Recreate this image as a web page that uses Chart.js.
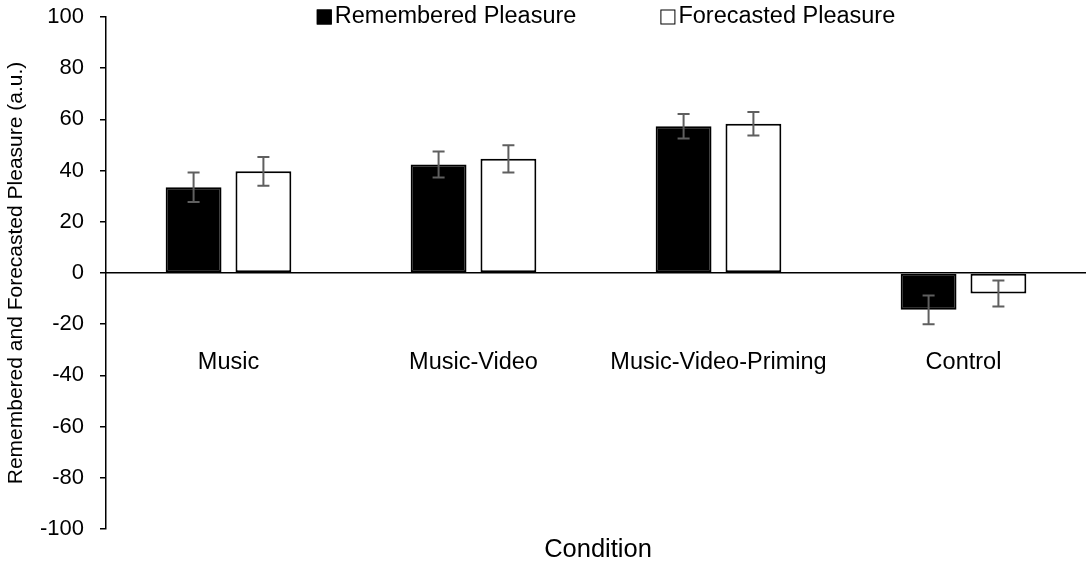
<!DOCTYPE html>
<html>
<head>
<meta charset="utf-8">
<script src="https://cdn.jsdelivr.net/npm/chart.js@4/dist/chart.umd.min.js"></script>
<style>
  html, body { margin: 0; padding: 0; background: #fff; }
  #wrap { width: 1086px; height: 569px; }
</style>
</head>
<body>
<div id="wrap"><canvas id="chart"></canvas></div>
<script>
// Data
const categories = ['Music', 'Music-Video', 'Music-Video-Priming', 'Control'];
const remembered = [33.5, 42.4, 57.3, -14.4];
const rememberedErr = [5.8, 5.1, 4.8, 5.6];
const forecasted = [39.7, 44.6, 58.3, -8.0];
const forecastedErr = [5.6, 5.3, 4.6, 5.1];
const yTicks = [-100, -80, -60, -40, -20, 0, 20, 40, 60, 80, 100];

const FONT = '"Liberation Sans", Arial, sans-serif';
const errors = [rememberedErr, forecastedErr];

// Error bars drawn from the bar elements and the y scale
const errorBars = {
  id: 'errorBars',
  afterDatasetsDraw(chart) {
    const ctx = chart.ctx;
    const y = chart.scales.y;
    ctx.save();
    ctx.strokeStyle = '#5f5f5f';
    ctx.lineWidth = 2;
    chart.data.datasets.forEach((ds, i) => {
      const meta = chart.getDatasetMeta(i);
      meta.data.forEach((bar, j) => {
        const v = ds.data[j];
        const e = errors[i][j];
        const top = y.getPixelForValue(v + e);
        const bot = y.getPixelForValue(v - e);
        ctx.beginPath();
        ctx.moveTo(bar.x, top); ctx.lineTo(bar.x, bot);
        ctx.moveTo(bar.x - 6, top); ctx.lineTo(bar.x + 6, top);
        ctx.moveTo(bar.x - 6, bot); ctx.lineTo(bar.x + 6, bot);
        ctx.stroke();
      });
    });
    ctx.restore();
  }
};

// Legend over the plot and the x axis title at the bottom
const extras = {
  id: 'extras',
  afterDraw(chart) {
    const ctx = chart.ctx;
    const area = chart.chartArea;
    ctx.save();
    ctx.font = '23.5px ' + FONT;
    ctx.textBaseline = 'middle';
    ctx.fillStyle = '#000';
    const labels = chart.data.datasets.map(d => d.label);
    const box = 15, gapText = 3, gapItem = 84;
    const widths = labels.map(l => ctx.measureText(l).width);
    const total = widths.reduce((a, w) => a + box + gapText + w, 0) + gapItem;
    let x = area.left + (area.width - total) / 2 + 10;
    const ly = 17;
    labels.forEach((l, i) => {
      const ds = chart.data.datasets[i];
      ctx.fillStyle = ds.backgroundColor;
      ctx.fillRect(x, ly - box / 2, box, box);
      ctx.strokeStyle = '#000';
      ctx.lineWidth = 1;
      ctx.strokeRect(x + 0.5, ly - box / 2 + 0.5, box - 1, box - 1);
      ctx.fillStyle = '#000';
      ctx.textAlign = 'left';
      ctx.fillText(l, x + box + gapText, ly);
      x += box + gapText + widths[i] + gapItem;
    });
    ctx.font = '25.5px ' + FONT;
    ctx.textAlign = 'center';
    ctx.fillText('Condition', (area.left + area.right) / 2 + 2, area.bottom + 21);
    ctx.restore();
  }
};

new Chart(document.getElementById('chart'), {
  type: 'bar',
  data: {
    labels: categories,
    datasets: [
      {
        label: 'Remembered Pleasure',
        data: remembered,
        backgroundColor: '#000000',
        borderColor: '#000000',
        borderWidth: 2,
        borderSkipped: false
      },
      {
        label: 'Forecasted Pleasure',
        data: forecasted,
        backgroundColor: '#ffffff',
        borderColor: '#000000',
        borderWidth: 2,
        borderSkipped: false
      }
    ]
  },
  options: {
    responsive: true,
    maintainAspectRatio: false,
    animation: false,
    events: [],
    categoryPercentage: 0.57,
    barPercentage: 0.8,
    layout: { padding: { top: 17, bottom: 40, left: 0, right: 0 } },
    plugins: {
      legend: { display: false },
      tooltip: { enabled: false }
    },
    scales: {
      x: {
        position: { y: 0 },
        offset: true,
        afterFit: (axis) => { axis.paddingTop = 0; axis.paddingBottom = 0; },
        grid: { display: false, drawTicks: false },
        border: { display: true, color: '#000', width: 1.5 },
        ticks: {
          padding: 75,
          color: '#000',
          font: { family: FONT, size: 23.5 },
          maxRotation: 0,
          autoSkip: false
        }
      },
      y: {
        min: -100,
        max: 100,
        afterBuildTicks: (axis) => { axis.ticks = yTicks.map(v => ({ value: v })); },
        afterFit: (axis) => { axis.width = 106; axis.paddingTop = 0; axis.paddingBottom = 0; },
        grid: { display: true, drawOnChartArea: false, drawTicks: true, tickLength: 6, color: '#000', lineWidth: 1.5 },
        border: { display: true, color: '#000', width: 1.5 },
        ticks: {
          padding: 16,
          color: '#000',
          font: { family: FONT, size: 22 }
        },
        title: {
          display: true,
          text: 'Remembered and Forecasted Pleasure (a.u.)',
          color: '#000',
          font: { family: FONT, size: 21 },
          padding: { top: 4, bottom: 4 }
        }
      }
    }
  },
  plugins: [errorBars, extras]
});
</script>
</body>
</html>
